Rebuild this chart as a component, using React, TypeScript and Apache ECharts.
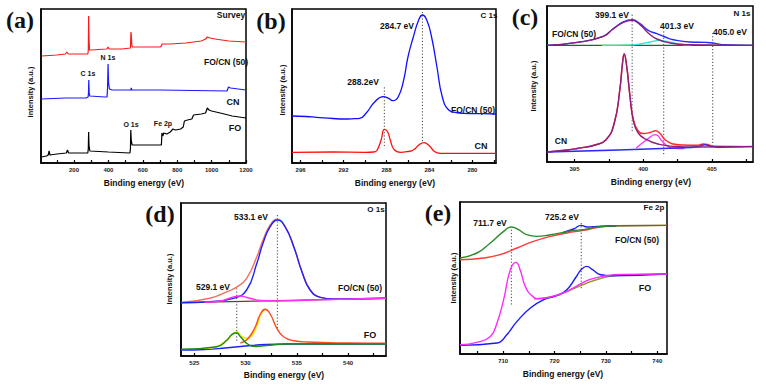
import React, { useEffect, useRef } from "react";
import * as echarts from "echarts";

const FONT = '"Liberation Sans", Arial, sans-serif';
const SERIF = '"Liberation Serif", "Times New Roman", serif';

// ---------- Panel (a) Survey ----------
const aLabels = [200, 400, 600, 800, 1000, 1200];
const aTicks = [100, 200, 300, 400, 500, 600, 700, 800, 900, 1000, 1100, 1200];
const aFOCN = [[10,107],[100,108],[150,109],[158,111],[166,109],[280,109],[283,112],[285,147],[287,125],[290,113],[300,113],[390,114],[398,116],[404,114],[480,114],[528,115],[531,131],[533,128],[536,118],[540,116],[700,116],[708,117],[712,119],[760,119],[850,120],[940,122],[965,124],[975,126],[990,125],[1020,124],[1100,122],[1200,121]];
const aCN = [[10,64],[150,65],[270,65],[282,66],[284,70],[286,83],[288,70],[292,67],[380,66],[392,66],[395,75],[398,99],[401,80],[406,74],[420,73],[530,73],[533,75],[536,73],[700,73],[1090,72],[1098,76],[1110,75],[1200,73]];
const aFO = [[10,6],[40,7],[50,8],[55,12],[60,8],[100,9],[155,10],[162,13],[168,10],[280,10],[283,14],[285,31],[287,18],[292,12],[400,11],[525,10],[528,14],[530,33],[533,22],[538,18],[700,18],[708,18],[711,30],[716,27],[722,30],[740,29],[760,31],[775,34],[790,33],[820,34],[835,36],[842,42],[860,43],[885,44],[895,48],[940,49],[965,50],[975,55],[985,53],[1000,52],[1050,50],[1120,47],[1200,45]];

// ---------- Panel (b) C 1s ----------
const bLabels = [296, 292, 288, 284, 280];
const bTicks = [296, 294, 292, 290, 288, 286, 284, 282, 280, 278];
const bFOCN = [[296.8,47],[295.5,46.5],[294.5,45.7],[293,44.5],[292,44],[291,44.3],[290.5,44.7],[289.9,49.7],[289.1,61],[288.3,66.3],[287.8,64.7],[287.4,62.3],[286.9,66.3],[286.4,83],[286.0,106],[285.5,126],[285.0,143],[284.65,148],[284.25,143],[283.8,126],[283.3,96],[282.8,66],[282.2,53],[281.5,50.5],[280.8,49.7],[279,49.3],[277.8,49]];
const bCN = [[296.8,10.7],[293,11],[290,10.7],[289.2,11],[288.9,12.5],[288.5,23],[288.2,33.7],[287.9,31.3],[287.65,23],[287.3,13.7],[286.7,10.7],[286,11.5],[285.5,13],[284.9,18.7],[284.5,20.3],[284.0,17],[283.5,11.3],[283.0,9.7],[280,9.7],[277.8,9.7]];
const bDot1 = [[288.2,75.7],[288.2,14.7]];
const bDot2 = [[284.65,151],[284.65,20]];

// ---------- Panel (c) N 1s ----------
const cLabels = [395, 400, 405];
const cTicks = [395, 397.5, 400, 402.5, 405, 407.5];
const cCNBase = [[393,10],[403.5,14.5],[404.1,15.8],[404.5,17.3],[404.9,15.8],[405.5,14.8],[408,15.6]];
const cCNMain = [[393,10],[394.5,12],[395.2,13.5],[396.5,17],[397.3,22.3],[397.9,39],[398.3,72],[398.5,99],[398.62,108],[398.8,96],[399.04,66],[399.28,42],[399.64,29],[400.26,22.3],[401,18.3],[402.2,15.6],[404,15],[408,15.4]];
const cCNEnv = [[393,10],[394.5,12],[395.2,13.5],[396.5,17],[397.3,22.3],[397.9,39],[398.3,72],[398.5,99],[398.62,108],[398.8,96],[399.04,66],[399.28,43],[399.64,31],[400.0,28.5],[400.5,29.5],[400.91,31.3],[401.2,29],[401.6,22.3],[402.1,18.3],[402.9,17],[403.9,16.8],[404.4,18],[404.7,17.5],[405.1,15.8],[408,15.4]];
const cCNComp2 = [[399.5,14],[400.26,22.3],[400.91,27.3],[401.4,20.6],[402.1,14],[403,13.5]];
const cFOCNBase = [[393,116.6],[408,116.6]];
const cFOCNComp2 = [[397,116.7],[399,116.9],[399.8,118],[400.5,120],[401.2,121.6],[401.9,120],[402.6,118],[403.5,116.8]];
const cFOCNMain = [[393,116.6],[395.2,119.6],[397.1,125.6],[397.8,133],[398.55,139.6],[399.2,141.6],[399.77,137.3],[400.37,129],[401,123],[401.96,119],[403.4,117.3],[408,116.6]];
const cFOCNEnv = [[393,116.6],[395.2,119.6],[397.1,125.6],[397.8,133],[398.55,140],[399.2,142.3],[399.77,138.3],[400.37,131.6],[401,128.3],[401.6,125],[402.2,122.3],[403.4,120],[404.6,119.6],[405.1,119],[405.8,117.3],[408,116.6]];
const cDot1 = [[399.2,147.3],[399.2,29]];
const cDot2 = [[401.5,130.6],[401.5,7.3]];
const cDot3 = [[405.07,129],[405.07,15.6]];

// ---------- Panel (d) O 1s ----------
const dLabels = [525, 530, 535, 540];
const dTicks = [525, 527.5, 530, 532.5, 535, 537.5, 540, 542.5];
const dFOCNBase = [[523.7,53.3],[543.7,57.7]];
const dFOCNEnv = [[523.7,53.5],[526.5,57.7],[528.2,64.3],[529.2,69.3],[530.1,77.7],[531.1,99.3],[531.7,116],[532.4,131],[533.1,136.7],[533.85,129.3],[534.7,109.3],[535.5,84.3],[536.3,66],[537.3,58.7],[538.6,57],[543.7,57.7]];
const dFOCNMain = [[523.7,53.3],[526.5,54.3],[528.8,57.7],[530.1,66],[531.1,92.7],[531.7,112.7],[532.4,129.3],[533.1,136],[533.85,129.3],[534.7,109.3],[535.5,84.3],[536.3,66],[537.3,58.7],[538.6,57],[543.7,57.7]];
const dFOCNComp = [[526,53.8],[527.5,55],[528.5,58],[529.4,60],[530.3,58],[531.5,55.5],[533,55],[538,56.5],[543.7,57.7]];
const dFOBase = [[523.7,6],[526,6.5],[528,8],[530,10],[532,11.5],[534,12],[543.7,12]];
const dFOEnv = [[526,7.5],[527.2,9.5],[528.2,16.3],[528.7,21.5],[529.1,24.3],[529.6,19.5],[530.1,17.7],[530.6,20],[531.2,32.7],[531.5,42],[531.9,46.7]];
const dFOComp1 = [[523.7,6.7],[527.2,9.3],[528.2,16],[528.6,21],[529.1,23.3],[529.5,19.3],[530.2,12],[531,9.5],[532,10.5],[534,12],[543.7,12]];
const dFOComp2 = [[529.5,13],[530.2,17],[530.95,29.3],[531.4,41],[531.9,46.7],[532.4,42],[533.05,27.7],[533.7,19.3],[534.7,15.3],[536,14],[540,13],[543.7,12.7]];
const dDot1 = [[533.1,141],[533.1,27.7]];
const dDot2 = [[529.14,67.7],[529.14,14.3]];

// ---------- Panel (e) Fe 2p ----------
const eLabels = [710, 720, 730, 740];
const eTicks = [705, 710, 715, 720, 725, 730, 735, 740];
const eFOCNBase = [[701.6,94.3],[706.2,96],[709.4,99.3],[712.7,106],[715.9,112.6],[719.2,117.6],[722.4,121],[725.6,123.6],[728.9,127],[732.1,128.3],[741.9,128.6]];
const eFOCNEnv = [[701.6,96],[704.9,101],[707.5,111],[710.1,122.6],[711.6,127],[713.0,124.3],[714.6,119.3],[716.6,117.6],[719.2,119.3],[721.7,121.6],[723.7,123.5],[725.6,124.3],[728.2,127],[732.1,128.3],[741.9,128.6]];
const eFOCNPeak = [[721.7,121.6],[723.7,125],[725.2,128.6],[726.3,127],[727.4,127.2],[729,127.8],[732,128.3]];
const eFOEnv = [[701.6,9.3],[704.9,11.6],[707.5,17.6],[708.8,31],[710.1,54.3],[711.4,84.3],[712.5,91.6],[713.3,84.3],[714.3,67.6],[715.6,58.3],[716.9,55.3],[719.2,57],[721.7,61],[724.2,67.6],[726.8,74.3],[730.1,78.3],[733.4,79.6],[741.9,80]];
const eFOBlue = [[701.6,8.6],[708.8,11],[710.7,19.3],[712.7,32.6],[715.3,46],[717.9,54.3],[720.4,58.3],[722.4,64.3],[724.2,77],[725.3,85],[726.3,87.6],[727.4,84.3],[729,79.3],[731,78.3],[741.9,80]];
const eFOOlive = [[716,55],[720,58],[724,66],[728,74],[732,78.5],[741.9,80]];
const eDot1 = [[711.6,124.3],[711.6,47.6]];
const eDot2 = [[725.2,131],[725.2,64.3]];

// ---------- layout ----------
const grids = [
  { left: 41, top: 9, width: 205, height: 154 },
  { left: 292, top: 9, width: 204, height: 154 },
  { left: 547, top: 6, width: 206, height: 156 },
  { left: 181, top: 203, width: 205, height: 153 },
  { left: 460, top: 202, width: 207, height: 152 },
];
const xr = [
  { min: 8, max: 1200, inverse: false, labels: aLabels, ticks: aTicks },
  { min: 277.8, max: 296.8, inverse: true, labels: bLabels, ticks: bTicks },
  { min: 393, max: 408, inverse: false, labels: cLabels, ticks: cTicks },
  { min: 523.7, max: 543.7, inverse: false, labels: dLabels, ticks: dTicks },
  { min: 701.6, max: 741.9, inverse: false, labels: eLabels, ticks: eTicks },
];

function ln(i: number, data: number[][], color: string, smooth: any = 0.35, width = 1.4, z = 2) {
  return {
    type: "line",
    xAxisIndex: i,
    yAxisIndex: i,
    data,
    symbol: "none",
    showSymbol: false,
    smooth,
    lineStyle: { color, width },
    z,
    silent: true,
  };
}
function dot(i: number, data: number[][]) {
  return {
    type: "line",
    xAxisIndex: i,
    yAxisIndex: i,
    data,
    symbol: "none",
    showSymbol: false,
    lineStyle: { color: "#444", width: 1, type: [1.2, 2] },
    z: 1,
    silent: true,
  };
}

function txt(text: string, x: number, y: number, size = 9, extra: any = {}) {
  const { serif, ...rest } = extra;
  return {
    type: "text",
    x,
    y,
    silent: true,
    ...rest,
    style: {
      text,
      fill: "#111",
      fontSize: size,
      fontWeight: "bold",
      fontFamily: serif ? SERIF : FONT,
      align: "center",
      verticalAlign: "middle",
    },
  };
}
const rot = { rotation: Math.PI / 2 };

export default function App() {
  const ref = useRef<HTMLDivElement>(null);
  useEffect(() => {
    if (!ref.current) return;
    const chart = echarts.init(ref.current, undefined, { renderer: "svg" });
    const option: any = {
      animation: false,
      backgroundColor: "#fff",
      grid: grids.map((g) => ({ ...g, show: true, borderColor: "#000", borderWidth: 1.5, backgroundColor: "transparent" })),
      xAxis: xr.map((r, i) => ({
        type: "value",
        gridIndex: i,
        min: r.min,
        max: r.max,
        inverse: r.inverse,
        axisLine: { show: true, lineStyle: { color: "#000", width: 1.5 } },
        axisTick: { show: true, inside: true, length: 3, customValues: r.ticks, lineStyle: { color: "#000", width: 1.2 } },
        axisLabel: {
          show: true,
          customValues: r.labels,
          fontSize: 6,
          fontWeight: "bold",
          color: "#222",
          margin: 3.5,
          fontFamily: FONT,
          formatter: (v: number) => String(v),
        },
        splitLine: { show: false },
      })),
      yAxis: grids.map((g, i) => ({
        type: "value",
        gridIndex: i,
        min: 0,
        max: g.height,
        axisLine: { show: true, lineStyle: { color: "#000", width: 1.5 } },
        axisTick: { show: false },
        axisLabel: { show: false },
        splitLine: { show: false },
      })),
      series: [
        // a
        ln(0, aFOCN, "#ff1a1a", false, 1.2),
        ln(0, aCN, "#1a1aff", false, 1.2),
        ln(0, aFO, "#000000", false, 1.2),
        // b
        dot(1, bDot1),
        dot(1, bDot2),
        ln(1, bFOCN, "#1010ff", 0.5, 1.3),
        ln(1, bCN, "#ff1010", 0.5, 1.3),
        // c
        dot(2, cDot1),
        dot(2, cDot2),
        dot(2, cDot3),
        ln(2, cFOCNBase, "#007a00", false, 1.3),
        ln(2, cFOCNComp2, "#30e0e0", 0.5, 1.3),
        ln(2, cFOCNEnv, "#2a2aff", 0.5, 1.4),
        ln(2, cFOCNMain, "#8e1f7a", 0.5, 1.4),
        ln(2, cCNEnv, "#ff2a2a", 0.5, 1.4),
        ln(2, cCNComp2, "#ff30ff", 0.5, 1.3),
        ln(2, cCNBase, "#2a2aff", 0.5, 1.4),
        ln(2, cCNMain, "#8e1f7a", 0.5, 1.4),
        // d
        dot(3, dDot1),
        dot(3, dDot2),
        ln(3, dFOCNBase, "#7a3a30", false, 1.2),
        ln(3, dFOCNEnv, "#f07060", 0.5, 1.4),
        ln(3, dFOCNMain, "#2020ff", 0.5, 1.4),
        ln(3, dFOCNComp, "#ff30ff", 0.5, 1.4),
        ln(3, dFOBase, "#2020ff", 0.5, 1.4),
        ln(3, dFOEnv, "#f0f000", 0.5, 1.6),
        ln(3, dFOComp2, "#ff4a1a", 0.5, 1.4),
        ln(3, dFOComp1, "#1a8a1a", 0.5, 1.4),
        // e
        dot(4, eDot1),
        dot(4, eDot2),
        ln(4, eFOCNBase, "#ff3a3a", 0.5, 1.4),
        ln(4, eFOCNPeak, "#1a1aff", 0.5, 1.4),
        ln(4, eFOCNEnv, "#2a8a2a", 0.5, 1.4),
        ln(4, eFOOlive, "#9a9a30", 0.5, 1.4),
        ln(4, eFOBlue, "#1a1aff", 0.5, 1.4),
        ln(4, eFOEnv, "#ff2aff", 0.5, 1.4),
      ],
      graphic: [
        // panel letters
        txt("(a)", 20, 20, 24, { serif: true }),
        txt("(b)", 271, 21, 24, { serif: true }),
        txt("(c)", 525, 17, 24, { serif: true }),
        txt("(d)", 160, 214, 24, { serif: true }),
        txt("(e)", 438, 213, 24, { serif: true }),
        // y names
        txt("Intensity (a.u.)", 30, 92, 7.5, rot),
        txt("Intensity (a.u.)", 282, 90, 7.5, rot),
        txt("Intensity (a.u.)", 533, 86, 7.5, rot),
        txt("Intensity (a.u.)", 169, 279, 7.5, rot),
        txt("Intensity (a.u.)", 453, 278, 7.5, rot),
        // x names
        txt("Binding energy (eV)", 144, 183, 8.5),
        txt("Binding energy (eV)", 395, 183, 8.5),
        txt("Binding energy (eV)", 651, 182, 8.5),
        txt("Binding energy (eV)", 284, 375, 8.5),
        txt("Binding energy (eV)", 563, 374, 8.5),
        // a
        txt("Survey", 231, 15, 8.5),
        txt("FO/CN (50)", 226, 62, 8.5),
        txt("C 1s", 88, 73, 7),
        txt("N 1s", 108, 57, 7),
        txt("CN", 233, 102, 9),
        txt("O 1s", 131, 124, 7),
        txt("Fe 2p", 163, 123, 7),
        txt("FO", 235, 128, 9),
        // b
        txt("284.7 eV", 397, 26, 8.5),
        txt("288.2eV", 363, 82, 8.5),
        txt("C 1s", 489, 15, 8),
        txt("FO/CN (50)", 473, 110, 8.5),
        txt("CN", 481, 146, 9),
        // c
        txt("399.1 eV", 612, 15, 8.5),
        txt("401.3 eV", 677, 26, 8.5),
        txt("405.0 eV", 730, 32, 8.5),
        txt("N 1s", 742, 13, 8),
        txt("FO/CN (50)", 574, 34, 8.5),
        txt("CN", 561, 141, 8.5),
        // d
        txt("533.1 eV", 251, 217, 8.5),
        txt("529.1 eV", 213, 287, 8.5),
        txt("O 1s", 376, 209, 8),
        txt("FO/CN (50)", 360, 288, 8.5),
        txt("FO", 370, 335, 9),
        // e
        txt("711.7 eV", 490, 223, 8.5),
        txt("725.2 eV", 562, 217, 8.5),
        txt("Fe 2p", 654, 207, 8),
        txt("FO/CN (50)", 637, 240, 8.5),
        txt("FO", 645, 288, 9),
      ],
    };
    chart.setOption(option);
    return () => chart.dispose();
  }, []);
  return (
    <div
      ref={ref}
      style={{ position: "fixed", left: 0, top: 0, width: 766, height: 387, background: "#fff" }}
    />
  );
}
